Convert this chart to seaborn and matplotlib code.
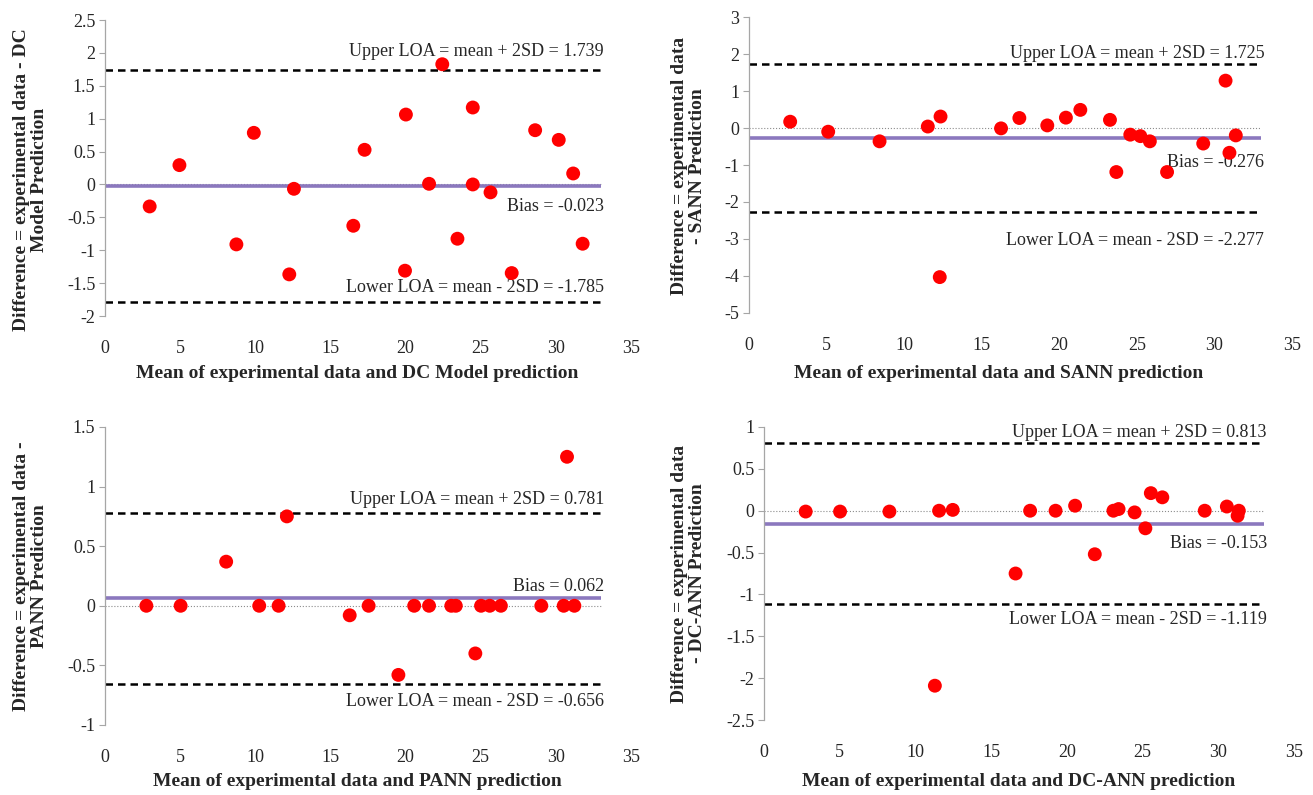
import matplotlib
matplotlib.use('Agg')
import matplotlib.pyplot as plt
import seaborn as sns
import pandas as pd
from matplotlib.ticker import FuncFormatter, MultipleLocator

# DC Model
dc_mean = [2.97, 4.95, 8.74, 9.90, 12.26, 12.57, 16.52, 17.27, 19.96, 20.02, 21.56,
           22.44, 23.45, 24.47, 24.47, 25.65, 27.06, 28.62, 30.19, 31.15, 31.78]
dc_diff = [-0.334, 0.294, -0.911, 0.785, -1.367, -0.066, -0.628, 0.527, -1.311, 1.063, 0.01,
           1.828, -0.825, 1.17, 0.0, -0.12, -1.347, 0.825, 0.678, 0.167, -0.901]

# SANN
sann_mean = [2.65, 5.10, 8.41, 11.52, 12.34, 12.29, 16.24, 17.42, 19.22, 20.42, 21.35,
             23.26, 23.67, 24.57, 25.22, 25.83, 26.94, 29.27, 30.71, 30.96, 31.37]
sann_diff = [0.17, -0.10, -0.36, 0.04, 0.31, -4.03, -0.01, 0.27, 0.07, 0.28, 0.49,
             0.22, -1.19, -0.18, -0.22, -0.36, -1.19, -0.42, 1.28, -0.67, -0.20]

# PANN
pann_mean = [2.75, 5.03, 8.06, 10.26, 11.55, 12.10, 16.28, 17.54, 19.52, 20.57, 21.56,
             23.04, 23.34, 24.64, 25.02, 25.60, 26.34, 29.03, 30.52, 30.74, 31.23]
pann_diff = [0, 0, 0.37, 0, 0, 0.75, -0.08, 0, -0.58, 0, 0,
             0, 0, -0.40, 0, 0, 0, 0, 0, 1.25, 0]

# DC-ANN
dcann_mean = [2.75, 5.02, 8.28, 11.56, 12.46, 11.28, 16.61, 17.57, 19.25, 20.54, 21.84,
              23.07, 23.41, 24.47, 25.18, 25.54, 26.30, 29.10, 30.56, 31.35, 31.27]
dcann_diff = [-0.01, -0.01, -0.01, 0.0, 0.01, -2.09, -0.75, 0, 0, 0.06, -0.52,
              0, 0.02, -0.02, -0.21, 0.21, 0.16, 0, 0.05, 0, -0.06]

# limits of agreement: upper, bias, lower
dc_loa = [1.739, -0.023, -1.785]
sann_loa = [1.725, -0.276, -2.277]
pann_loa = [0.781, 0.062, -0.656]
dcann_loa = [0.813, -0.153, -1.119]

sns.set_style('ticks')
plt.rcParams['font.family'] = ['Liberation Serif', 'DejaVu Serif']
plt.rcParams['axes.unicode_minus'] = False

panels = [
    dict(x=dc_mean, y=dc_diff, loa=dc_loa, rect=[0.0800, 0.6025, 0.4006, 0.3723],
         ylim=(-2, 2.5), ystep=0.5, text_y=(2.02, -0.34, -1.565),
         xlabel='Mean of experimental data and DC Model prediction',
         ylabel='Difference = experimental data - DC\nModel Prediction',
         xl=(0.48, -0.193), yl=(-0.142, 0.46)),
    dict(x=sann_mean, y=sann_diff, loa=sann_loa, rect=[0.5705, 0.6063, 0.4136, 0.3723],
         ylim=(-5, 3), ystep=1, text_y=(2.02, -0.94, -3.05),
         xlabel='Mean of experimental data and SANN prediction',
         ylabel='Difference = experimental data\n- SANN Prediction',
         xl=(0.459, -0.203), yl=(-0.112, 0.497)),
    dict(x=pann_mean, y=pann_diff, loa=pann_loa, rect=[0.0800, 0.0881, 0.4006, 0.3748],
         ylim=(-1, 1.5), ystep=0.5, text_y=(0.89, 0.165, -0.805),
         xlabel='Mean of experimental data and PANN prediction',
         ylabel='Difference = experimental data -\nPANN Prediction',
         xl=(0.48, -0.19), yl=(-0.142, 0.5)),
    dict(x=dcann_mean, y=dcann_diff, loa=dcann_loa, rect=[0.5819, 0.0943, 0.4037, 0.3686],
         ylim=(-2.5, 1), ystep=0.5, text_y=(0.93, -0.39, -1.30),
         xlabel='Mean of experimental data and DC-ANN prediction',
         ylabel='Difference = experimental data\n- DC-ANN Prediction',
         xl=(0.48, -0.21), yl=(-0.143, 0.50)),
]

fig = plt.figure(figsize=(13.13, 7.95), dpi=100)

for p in panels:
    ax = fig.add_axes(p['rect'])
    df = pd.DataFrame({'mean': p['x'], 'diff': p['y']})
    upper, bias, lower = p['loa']

    ax.hlines(0, 0, 33, colors='#8c8c8c', linestyles=':', lw=0.8, zorder=1)
    ax.hlines(bias, 0, 33, colors='#8B78BE', lw=2.6, zorder=2)
    ax.hlines([upper, lower], 0, 33, colors='black', linestyles=(0, (3, 2)), lw=1.8, zorder=2)
    sns.scatterplot(data=df, x='mean', y='diff', ax=ax, color='#FF0000', s=100,
                    edgecolor='none', linewidth=0, zorder=5)

    ty_up, ty_bias, ty_low = p['text_y']
    ax.text(33.2, ty_up, f'Upper LOA = mean + 2SD = {upper:.3f}', ha='right', va='center', fontsize=13)
    ax.text(33.2, ty_bias, f'Bias = {bias:.3f}', ha='right', va='center', fontsize=13)
    ax.text(33.2, ty_low, f'Lower LOA = mean - 2SD = {lower:.3f}', ha='right', va='center', fontsize=13)

    ax.set_xlim(0, 35)
    ax.set_xticks(range(0, 36, 5))
    ax.set_ylim(*p['ylim'])
    ax.yaxis.set_major_locator(MultipleLocator(p['ystep']))
    ax.yaxis.set_major_formatter(FuncFormatter(lambda v, pos: f'{v:g}'))

    for side in ['top', 'right', 'bottom']:
        ax.spines[side].set_visible(False)
    ax.spines['left'].set_color('#a6a6a6')
    ax.spines['left'].set_linewidth(0.9)
    ax.tick_params(axis='y', length=4, color='#a6a6a6', labelsize=13, pad=3)
    ax.tick_params(axis='x', length=0, labelsize=13, pad=17)

    ax.set_xlabel(p['xlabel'], fontsize=14, fontweight='bold')
    ax.xaxis.set_label_coords(*p['xl'])
    ax.xaxis.label.set_va('center')
    ax.set_ylabel(p['ylabel'], fontsize=14, fontweight='bold', linespacing=1.1)
    ax.yaxis.set_label_coords(*p['yl'])
    ax.yaxis.label.set_va('center')

plt.savefig('out.png', dpi=100)
